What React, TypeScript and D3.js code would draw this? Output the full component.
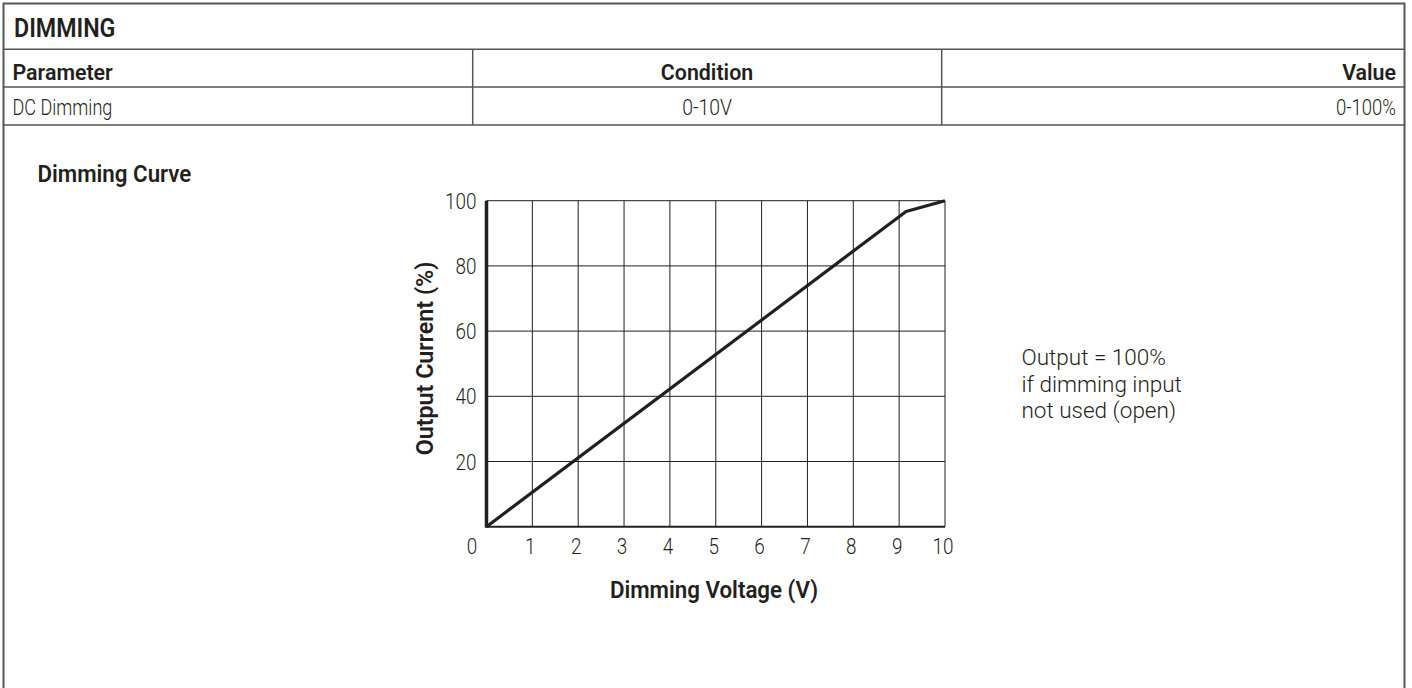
import React from 'react';
import * as d3 from 'd3';

// table content
const sectionTitle = 'DIMMING';
const headerCells = ['Parameter', 'Condition', 'Value'];
const rowCells = ['DC Dimming', '0-10V', '0-100%'];

// dimming curve
const voltage = [0, 9.15, 10];
const outputPct = [0, 96.7, 100];
const xTicks = [0, 1, 2, 3, 4, 5, 6, 7, 8, 9, 10];
const yTicks = [20, 40, 60, 80, 100];
const noteLines = ['Output = 100%', 'if dimming input', 'not used (open)'];

const FONT = 'Roboto, "Liberation Sans", sans-serif';
const INK = '#231f20';

// condensed text, like the datasheet's narrow face
const T = ({ x, y, sx = 0.85, rotate = 0, anchor = 'start', size = 22, weight = 300, children }: any) => (
  <text
    transform={`translate(${x},${y})${rotate ? ` rotate(${rotate})` : ''} scale(${sx},1)`}
    textAnchor={anchor}
    fontFamily={FONT}
    fontSize={size}
    fontWeight={weight}
    fill={INK}
  >
    {children}
  </text>
);

const App = () => {
  const W = 1412;
  const H = 688;
  const frameL = 3.5;
  const frameR = 1404.5;
  const frameT = 3.5;
  const rowLines = [49.3, 87, 125];
  const colLines = [472.7, 941.7];

  const x = d3.scaleLinear().domain([0, 10]).range([486.5, 945]);
  const y = d3.scaleLinear().domain([0, 100]).range([526.7, 200.7]);

  const line = d3
    .line<number>()
    .x((d) => x(d))
    .y((_, i) => y(outputPct[i]));

  return (
    <svg width={W} height={H} style={{ position: 'absolute', left: 0, top: 0, background: '#fff' }}>
      {/* table frame */}
      <g stroke="#555" fill="none">
        <path d={`M${frameL},${H} V${frameT} H${frameR} V${H}`} strokeWidth={2} />
        {rowLines.map((ry) => (
          <line key={ry} x1={frameL} x2={frameR} y1={ry} y2={ry} strokeWidth={1.5} />
        ))}
        {colLines.map((cx) => (
          <line key={cx} x1={cx} x2={cx} y1={rowLines[0]} y2={rowLines[2]} strokeWidth={1.5} />
        ))}
      </g>

      <T x={14} y={36.5} size={25} weight={600} sx={0.93}>{sectionTitle}</T>
      <T x={12.5} y={79.5} size={23} weight={600} sx={0.93}>{headerCells[0]}</T>
      <T x={707} y={79.5} size={23} weight={600} sx={0.93} anchor="middle">{headerCells[1]}</T>
      <T x={1396} y={79.5} size={23} weight={600} sx={0.93} anchor="end">{headerCells[2]}</T>
      <T x={12.5} y={114.5} size={21.5} sx={0.84}>{rowCells[0]}</T>
      <T x={707} y={114.5} size={21.5} sx={0.9} anchor="middle">{rowCells[1]}</T>
      <T x={1396} y={114.5} size={21.5} sx={0.86} anchor="end">{rowCells[2]}</T>

      <T x={37.5} y={182} size={24} weight={600} sx={0.93}>Dimming Curve</T>

      {/* grid */}
      <g stroke={INK} strokeWidth={1}>
        {xTicks.slice(1).map((t) => (
          <line key={t} x1={x(t)} x2={x(t)} y1={y(0)} y2={y(100)} />
        ))}
        {yTicks.map((t) => (
          <line key={t} x1={x(0)} x2={x(10)} y1={y(t)} y2={y(t)} />
        ))}
      </g>
      <line x1={x(0)} x2={x(10)} y1={y(0)} y2={y(0)} stroke={INK} strokeWidth={2} />
      <line x1={x(0)} x2={x(0)} y1={y(0) + 1} y2={y(100)} stroke={INK} strokeWidth={3.5} />

      <path d={line(voltage) || ''} fill="none" stroke={INK} strokeWidth={3.2} strokeLinejoin="round" />

      {/* tick labels */}
      {xTicks.map((t) => (
        <T key={t} x={x(t) - (t === 0 ? 14.5 : 2)} y={554} size={22} anchor="middle" sx={0.86}>
          {t}
        </T>
      ))}
      {yTicks.map((t) => (
        <T key={t} x={x(0) - 10} y={y(t) + 8} size={22} anchor="end" sx={0.86}>
          {t}
        </T>
      ))}

      <T x={714} y={598} size={23.5} weight={600} sx={0.95} anchor="middle">Dimming Voltage (V)</T>
      <T x={433} y={358.5} size={24} weight={600} sx={0.97} anchor="middle" rotate={-90}>Output Current (%)</T>

      {noteLines.map((s, i) => (
        <T key={s} x={1021.5} y={365 + i * 26.5} size={22.5} sx={1}>{s}</T>
      ))}
    </svg>
  );
};

export default App;
